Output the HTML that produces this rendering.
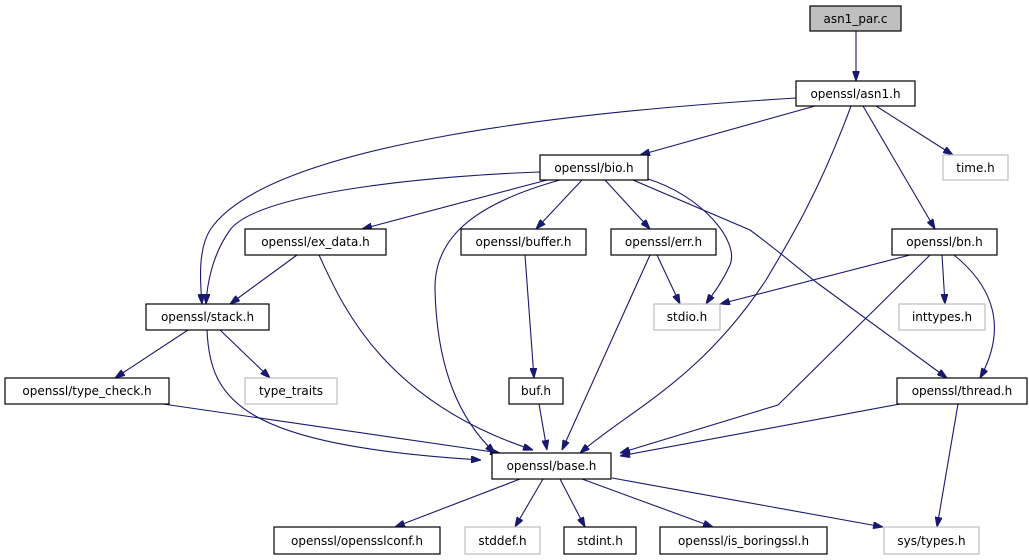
<!DOCTYPE html>
<html><head><meta charset="utf-8"><style>
html,body{margin:0;padding:0;background:#fff;}
svg{display:block;}
text{font-family:"DejaVu Sans","Liberation Sans",sans-serif;font-size:12px;text-anchor:middle;fill:#000;}
</style></head><body>
<svg width="1029" height="560" viewBox="0 0 1029 560" xmlns="http://www.w3.org/2000/svg">
<defs>
<marker id="a" viewBox="0 0 10 7" refX="10" refY="3.5" markerWidth="10" markerHeight="7" markerUnits="userSpaceOnUse" orient="auto">
<path d="M0,0 L10,3.5 L0,7 z" fill="#191970" stroke="#191970"/>
</marker>
</defs>
<g fill="none" stroke="#191970" stroke-width="1.1" marker-end="url(#a)">
<path d="M856,31 L856,81"/>
<path d="M815,106 L640,155"/>
<path d="M876,106 L953,155"/>
<path d="M863,106 L935,229"/>
<path d="M851,106 C820,190 790,240 766,280 C700,380 630,410 580,453"/>
<path d="M796,98 C600,110 270,140 210,230 C198,250 200,280 202,304"/>
<path d="M540,172 C450,175 260,190 230,230 C212,255 207,285 206,304"/>
<path d="M547,180 L362,229"/>
<path d="M560,180 C470,205 434,240 435,290 C437,370 460,420 495,453"/>
<path d="M582,180 L536,229"/>
<path d="M605,180 L650,229"/>
<path d="M648,179 C700,195 740,240 730,265 C722,283 712,295 706,304"/>
<path d="M633,180 L750,230 C780,252 800,270 820,285 L947,378"/>
<path d="M525,255 L534,378"/>
<path d="M657,255 L680,304"/>
<path d="M650,255 L562,450"/>
<path d="M297,255 L230,304"/>
<path d="M319,255 C340,300 380,400 533,450"/>
<path d="M188,330 L115,378"/>
<path d="M220,330 L270,378"/>
<path d="M207,330 C210,400 240,445 481,460"/>
<path d="M163,404 L500,453"/>
<path d="M539,404 L547,450"/>
<path d="M910,255 L720,304"/>
<path d="M942,255 L945,304"/>
<path d="M954,255 C985,280 1012,320 980,378"/>
<path d="M930,255 L778,405 L620,453"/>
<path d="M900,404 L620,456"/>
<path d="M958,404 L937,527"/>
<path d="M520,479 L395,527"/>
<path d="M543,479 L515,527"/>
<path d="M560,479 L585,527"/>
<path d="M582,479 L713,527"/>
<path d="M612,478 L883,527"/>
</g>
<g stroke-width="1.2">
<rect x="810" y="6" width="91" height="25" fill="#bfbfbf" stroke="#000"/>
<rect x="796" y="81" width="119" height="25" fill="#fff" stroke="#000"/>
<rect x="540" y="155" width="108" height="25" fill="#fff" stroke="#000"/>
<rect x="943" y="155" width="65" height="25" fill="#fff" stroke="#bfbfbf"/>
<rect x="245" y="229" width="141" height="26" fill="#fff" stroke="#000"/>
<rect x="461" y="229" width="125" height="26" fill="#fff" stroke="#000"/>
<rect x="611" y="229" width="105" height="26" fill="#fff" stroke="#000"/>
<rect x="892" y="229" width="105" height="26" fill="#fff" stroke="#000"/>
<rect x="146" y="304" width="123" height="26" fill="#fff" stroke="#000"/>
<rect x="654" y="304" width="66" height="26" fill="#fff" stroke="#bfbfbf"/>
<rect x="899" y="304" width="86" height="26" fill="#fff" stroke="#bfbfbf"/>
<rect x="5" y="378" width="164" height="26" fill="#fff" stroke="#000"/>
<rect x="245" y="378" width="92" height="26" fill="#fff" stroke="#bfbfbf"/>
<rect x="509" y="378" width="54" height="26" fill="#fff" stroke="#000"/>
<rect x="897" y="378" width="130" height="26" fill="#fff" stroke="#000"/>
<rect x="492" y="453" width="119" height="26" fill="#fff" stroke="#000"/>
<rect x="274" y="527" width="166" height="27" fill="#fff" stroke="#000"/>
<rect x="465" y="527" width="75" height="27" fill="#fff" stroke="#bfbfbf"/>
<rect x="564" y="527" width="72" height="27" fill="#fff" stroke="#000"/>
<rect x="660" y="527" width="167" height="27" fill="#fff" stroke="#000"/>
<rect x="884" y="527" width="95" height="27" fill="#fff" stroke="#bfbfbf"/>
</g>
<text x="855.5" y="23">asn1_par.c</text>
<text x="855.5" y="98">openssl/asn1.h</text>
<text x="594" y="172">openssl/bio.h</text>
<text x="975.5" y="172">time.h</text>
<text x="315.5" y="246">openssl/ex_data.h</text>
<text x="523.5" y="246">openssl/buffer.h</text>
<text x="663.5" y="246">openssl/err.h</text>
<text x="944.5" y="246">openssl/bn.h</text>
<text x="207.5" y="321">openssl/stack.h</text>
<text x="687" y="321">stdio.h</text>
<text x="942" y="321">inttypes.h</text>
<text x="87" y="395">openssl/type_check.h</text>
<text x="291" y="395">type_traits</text>
<text x="536" y="395">buf.h</text>
<text x="962" y="395">openssl/thread.h</text>
<text x="551.5" y="470">openssl/base.h</text>
<text x="357" y="545">openssl/opensslconf.h</text>
<text x="502.5" y="545">stddef.h</text>
<text x="600" y="545">stdint.h</text>
<text x="743.5" y="545">openssl/is_boringssl.h</text>
<text x="931.5" y="545">sys/types.h</text>
</svg>
</body></html>
